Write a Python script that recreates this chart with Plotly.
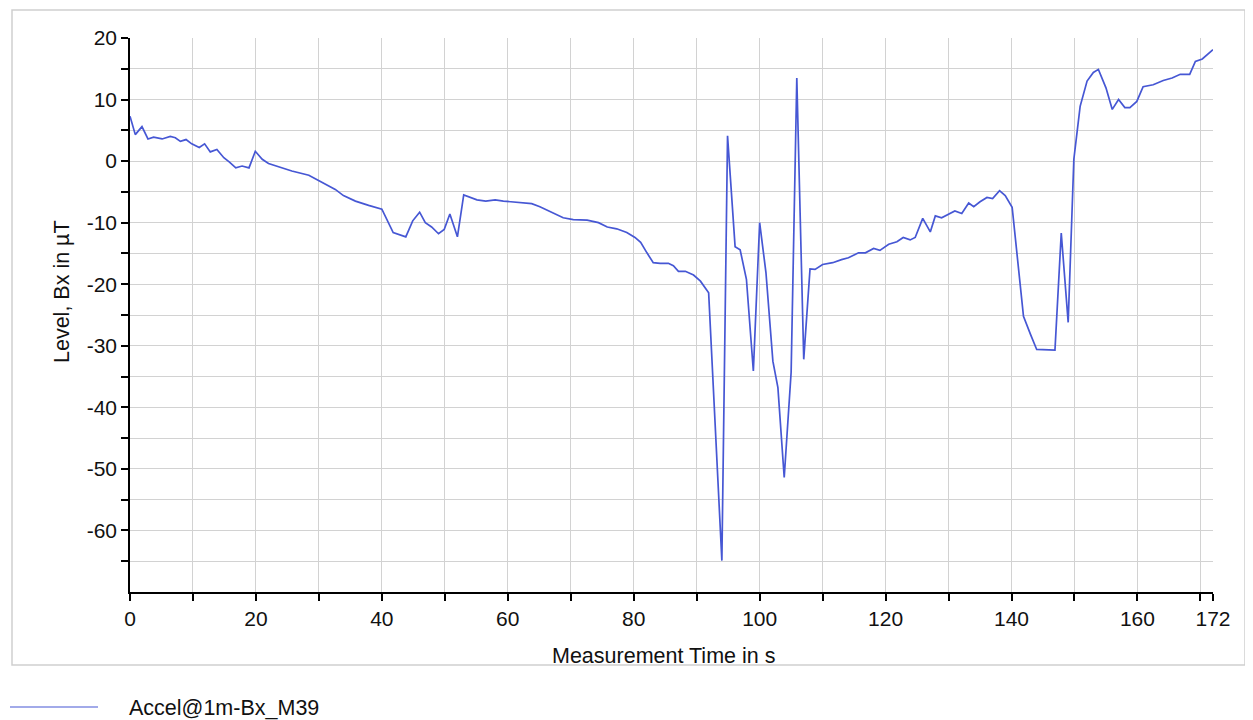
import plotly.graph_objects as go

# ---- data ----
time_s = [0.0, 0.84, 1.9, 2.85, 3.75, 5.1, 6.4, 7.2, 8.0, 8.9, 9.8, 11.0, 11.85, 12.75, 13.8,
          14.9, 15.8, 16.8, 17.8, 18.9, 19.9, 21.0, 22.0, 23.6, 25.7, 28.4, 29.7, 31.5, 32.6,
          33.9, 35.8, 37.9, 40.0, 41.8, 43.8, 44.9, 46.0, 46.9, 47.9, 49.0, 49.9, 50.8, 52.0,
          53.0, 53.9, 55.1, 56.5, 58.0, 59.3, 61.4, 63.8, 65.1, 67.0, 68.8, 70.4, 72.6, 74.4,
          75.8, 77.3, 78.9, 80.2, 81.1, 82.1, 83.1, 84.2, 85.5, 86.3, 87.1, 88.2, 89.5, 90.6,
          91.9, 94.0, 94.9, 96.1, 96.9, 97.9, 99.0, 100.0, 101.0, 102.1, 102.9, 103.9, 105.0,
          105.9, 107.0, 108.0, 108.8, 110.0, 111.6, 113.0, 114.1, 115.7, 116.8, 118.1, 119.1,
          120.5, 121.8, 122.8, 123.9, 124.7, 125.9, 127.1, 127.9, 128.9, 130.0, 131.0, 132.1,
          133.2, 134.0, 135.0, 136.1, 137.0, 138.1, 139.0, 140.1, 141.9, 143.0, 144.0, 146.9,
          147.9, 149.0, 149.9, 150.9, 152.0, 153.0, 153.8, 155.0, 156.0, 157.0, 158.0, 158.8,
          159.9, 160.9, 162.5, 164.1, 165.5, 166.8, 168.3, 169.2, 170.3, 172.0]
bx_uT = [7.3, 4.3, 5.6, 3.6, 3.9, 3.6, 4.0, 3.8, 3.2, 3.5, 2.8, 2.2, 2.8, 1.5, 1.9,
         0.55, -0.15, -1.1, -0.8, -1.1, 1.6, 0.3, -0.4, -0.9, -1.6, -2.3, -3.0, -3.9, -4.6,
         -5.6, -6.5, -7.2, -7.8, -11.6, -12.3, -9.7, -8.3, -10.0, -10.7, -11.8, -11.1, -8.6, -12.3,
         -5.5, -5.8, -6.3, -6.5, -6.3, -6.5, -6.7, -6.9, -7.4, -8.3, -9.2, -9.5, -9.6, -10.0,
         -10.7, -11.0, -11.6, -12.4, -13.2, -14.9, -16.5, -16.6, -16.6, -17.0, -17.9, -17.9, -18.5, -19.5,
         -21.4, -64.9, 4.1, -13.9, -14.4, -19.2, -34.1, -10.0, -18.1, -32.5, -36.8, -51.4, -34.3,
         13.5, -32.2, -17.5, -17.6, -16.8, -16.5, -16.0, -15.7, -14.9, -14.9, -14.2, -14.5,
         -13.5, -13.1, -12.4, -12.8, -12.4, -9.3, -11.5, -8.9, -9.2, -8.6, -8.1, -8.5,
         -6.8, -7.4, -6.6, -5.9, -6.1, -4.8, -5.6, -7.5, -25.2, -28.1, -30.6, -30.7,
         -11.7, -26.2, 0.3, 8.9, 13.0, 14.4, 14.9, 11.9, 8.4, 10.0, 8.7, 8.7,
         9.7, 12.1, 12.4, 13.1, 13.5, 14.1, 14.1, 16.2, 16.6, 18.1]
series_name = "Accel@1m-Bx_M39"

x_tick_vals = [0, 10, 20, 30, 40, 50, 60, 70, 80, 90, 100, 110, 120, 130, 140, 150, 160, 170, 172]
x_tick_text = ["0", "", "20", "", "40", "", "60", "", "80", "", "100", "", "120", "", "140", "", "160", "", "172"]
y_tick_vals = [-65, -60, -55, -50, -45, -40, -35, -30, -25, -20, -15, -10, -5, 0, 5, 10, 15, 20]
y_tick_text = ["", "-60", "", "-50", "", "-40", "", "-30", "", "-20", "", "-10", "", "0", "", "10", "", "20"]

# ---- layout constants ----
W, H = 1253, 720
OFF = 8  # page body margin offset
# target plot box in page pixels: x 130..1213, y 38..592
PL, PR, PT, PB = 130, 1213, 38, 592
ML, MT = PL - OFF, PT - OFF
PW, PH = PR - PL, PB - PT
MR = W - ML - PW
MB = H - MT - PH
FONT = "Liberation Sans, Arial, Helvetica, sans-serif"
LINE_COLOR = "#4657d4"


def px_to_paper_x(px):
    return (px - PL) / PW


def px_to_paper_y(py):
    return (PB - py) / PH


fig = go.Figure()
fig.add_trace(go.Scatter(
    x=time_s, y=bx_uT, mode="lines", name=series_name,
    line=dict(color=LINE_COLOR, width=1.7), showlegend=False,
))

fig.update_layout(
    width=W, height=H,
    margin=dict(l=ML, r=MR, t=MT, b=MB),
    paper_bgcolor="white", plot_bgcolor="white",
    font=dict(family=FONT, size=21, color="#111111"),
)

fig.update_xaxes(
    range=[0, 172], tickmode="array", tickvals=x_tick_vals, ticktext=x_tick_text,
    showgrid=True, gridcolor="#d2d2d2", gridwidth=1,
    showline=True, linecolor="black", linewidth=1.5,
    ticks="outside", ticklen=7, tickcolor="black", tickwidth=1.5,
    tickfont=dict(size=21), zeroline=False,
)
fig.update_yaxes(
    range=[-70, 20], tickmode="array", tickvals=y_tick_vals, ticktext=y_tick_text,
    showgrid=True, gridcolor="#d2d2d2", gridwidth=1,
    showline=True, linecolor="black", linewidth=1.5,
    ticks="outside", ticklen=7, tickcolor="black", tickwidth=1.5,
    tickfont=dict(size=21), zeroline=False,
)

# axis titles placed as in the reference
fig.add_annotation(xref="paper", yref="paper", x=px_to_paper_x(663), y=px_to_paper_y(656),
                   xanchor="center", yanchor="middle", showarrow=False,
                   text="Measurement Time in s", font=dict(size=21.5, color="#111111"))
fig.add_annotation(xref="paper", yref="paper", x=px_to_paper_x(62), y=px_to_paper_y(292),
                   xanchor="center", yanchor="middle", showarrow=False, textangle=-90,
                   text="Level, Bx in µT", font=dict(size=21.5, color="#111111"))

# outer light frame around the chart
fig.add_shape(type="rect", xref="paper", yref="paper",
              x0=px_to_paper_x(12), x1=px_to_paper_x(1245),
              y0=px_to_paper_y(665), y1=px_to_paper_y(10),
              line=dict(color="#cfcfcf", width=1.5), fillcolor="rgba(0,0,0,0)", layer="below")

# legend entry (line sample + label) below the frame
fig.add_shape(type="line", xref="paper", yref="paper",
              x0=px_to_paper_x(10), x1=px_to_paper_x(98),
              y0=px_to_paper_y(707), y1=px_to_paper_y(707),
              line=dict(color=LINE_COLOR, width=1.2))
fig.add_annotation(xref="paper", yref="paper", x=px_to_paper_x(127), y=px_to_paper_y(708),
                   xanchor="left", yanchor="middle", showarrow=False,
                   text=series_name, font=dict(size=21.5, color="#111111"))

fig.write_html("out.html")
